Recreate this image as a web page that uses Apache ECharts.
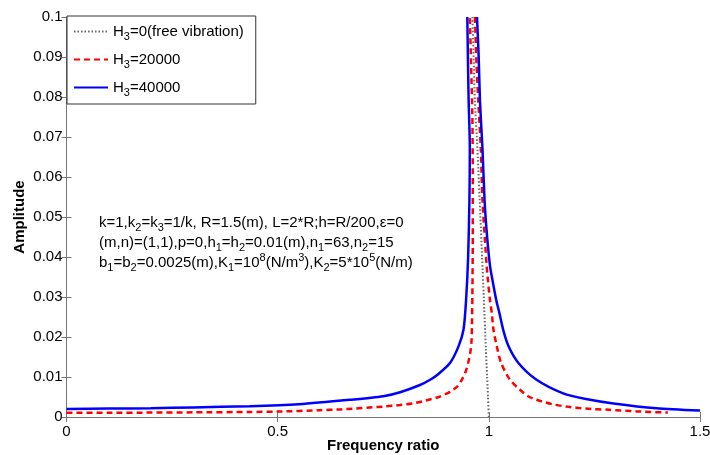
<!DOCTYPE html>
<html><head><meta charset="utf-8">
<script src="https://cdn.jsdelivr.net/npm/echarts@6/dist/echarts.min.js"></script>
<style>html,body{margin:0;padding:0;background:#fff}#c{width:710px;height:455px}</style>
</head><body><div id="c"></div>
<script>
// ---- data ----
const seriesNames = ['H3=0(free vibration)', 'H3=20000', 'H3=40000'];
const xTicks = [0, 0.5, 1, 1.5];
const yTicks = [0, 0.01, 0.02, 0.03, 0.04, 0.05, 0.06, 0.07, 0.08, 0.09, 0.1];

const freeX = [1.000, 0.998, 0.996, 0.993, 0.988, 0.984, 0.980, 0.973, 0.967, 0.964, 0.961];
const freeA = [0, 0.005, 0.010, 0.017, 0.030, 0.040, 0.050, 0.067, 0.079, 0.090, 0.100];

const h20LeftX = [0, 0.1, 0.2, 0.3, 0.435, 0.5, 0.6, 0.65, 0.75, 0.79, 0.82, 0.85, 0.884, 0.908, 0.925, 0.936, 0.945, 0.951, 0.956, 0.959, 0.960, 0.961, 0.962, 0.962, 0.961, 0.958, 0.955];
const h20LeftA = [0.00105, 0.00107, 0.00110, 0.00116, 0.00126, 0.00135, 0.0017, 0.0019, 0.0026, 0.0030, 0.0034, 0.0041, 0.0051, 0.0063, 0.0076, 0.0093, 0.0113, 0.0135, 0.0160, 0.0190, 0.0230, 0.030, 0.045, 0.060, 0.075, 0.088, 0.100];
const h20RightX = [0.967, 0.971, 0.975, 0.981, 0.985, 0.995, 0.998, 1.003, 1.007, 1.011, 1.019, 1.029, 1.050, 1.074, 1.093, 1.113, 1.150, 1.184, 1.230, 1.285, 1.350, 1.424];
const h20RightA = [0.100, 0.088, 0.079, 0.067, 0.054, 0.0376, 0.034, 0.029, 0.026, 0.0218, 0.0176, 0.0135, 0.0093, 0.0068, 0.0052, 0.0043, 0.0032, 0.0026, 0.0021, 0.0018, 0.0014, 0.0011];

const h40LeftX = [0, 0.1, 0.2, 0.3, 0.434, 0.55, 0.671, 0.75, 0.79, 0.837, 0.861, 0.880, 0.908, 0.928, 0.940, 0.946, 0.951, 0.954, 0.955, 0.952, 0.949];
const h40LeftA = [0.0020, 0.0021, 0.0022, 0.0024, 0.0027, 0.0032, 0.0043, 0.0052, 0.0062, 0.0080, 0.0093, 0.0107, 0.0135, 0.0176, 0.0218, 0.029, 0.040, 0.054, 0.067, 0.080, 0.100];
const h40RightX = [0.972, 0.976, 0.979, 0.985, 0.990, 0.996, 1.003, 1.009, 1.018, 1.025, 1.034, 1.047, 1.070, 1.113, 1.176, 1.230, 1.295, 1.397, 1.500];
const h40RightA = [0.100, 0.090, 0.079, 0.067, 0.054, 0.045, 0.0376, 0.034, 0.029, 0.026, 0.0218, 0.0176, 0.0135, 0.0093, 0.0059, 0.0045, 0.0034, 0.0022, 0.0016];

const noteLines = [
  '{n|k=1,k}{s|2}{n|=k}{s|3}{n|=1/k, R=1.5(m), L=2*R;h=R/200,ε=0}',
  '{n|(m,n)=(1,1),p=0,h}{s|1}{n|=h}{s|2}{n|=0.01(m),n}{s|1}{n|=63,n}{s|2}{n|=15}',
  '{n|b}{s|1}{n|=b}{s|2}{n|=0.0025(m),K}{s|1}{n|=10}{u|8}{n|(N/m}{u|3}{n|),K}{s|2}{n|=5*10}{u|5}{n|(N/m)}'
];

// ---- chart ----
const FONT = '"Liberation Sans", Arial, sans-serif';
const zip = (xs, ys) => xs.map((x, i) => [x, ys[i]]);
const rich = {
  n: { fontSize: 15, fontFamily: FONT, color: '#000', lineHeight: 20 },
  s: { fontSize: 11, fontFamily: FONT, color: '#000', lineHeight: 20, padding: [10, 0, 0, 0] },
  u: { fontSize: 11, fontFamily: FONT, color: '#000', lineHeight: 20, padding: [0, 0, 10, 0] }
};
const styles = [
  { color: '#666', width: 2, type: [1.5, 2] },
  { color: '#ff0000', width: 2.5, type: [6, 4] },
  { color: '#0000ff', width: 2.5, type: 'solid' }
];
function mk(name, idx, data) {
  return {
    name, type: 'line', data, symbol: 'none', smooth: 0.25, clip: true,
    lineStyle: styles[idx], itemStyle: { color: styles[idx].color }, z: 2 + idx
  };
}

const chart = echarts.init(document.getElementById('c'), null, { renderer: 'canvas' });
const axisCommon = {
  type: 'value',
  axisLine: { show: true, lineStyle: { color: '#777', width: 1 } },
  axisTick: { show: true, inside: true, length: 5, lineStyle: { color: '#777' } },
  splitLine: { show: false },
  nameMoveOverlap: false
};
chart.setOption({
  animation: false,
  backgroundColor: '#fff',
  grid: { left: 66.5, right: 10, top: 17, bottom: 38, containLabel: false, outerBoundsMode: 'none' },
  xAxis: [
    Object.assign({}, axisCommon, {
      min: xTicks[0], max: xTicks[xTicks.length - 1], interval: xTicks[1] - xTicks[0],
      position: 'bottom',
      axisLabel: { color: '#000', fontSize: 15, fontFamily: FONT, margin: 7, formatter: v => String(v) },
      name: 'Frequency ratio', nameLocation: 'middle', nameGap: 21,
      nameTextStyle: { color: '#000', fontSize: 15, fontWeight: 'bold', fontFamily: FONT }
    }),
    Object.assign({}, axisCommon, {
      min: xTicks[0], max: xTicks[xTicks.length - 1], interval: xTicks[1] - xTicks[0],
      position: 'top', axisLabel: { show: false }
    })
  ],
  yAxis: [
    Object.assign({}, axisCommon, {
      min: yTicks[0], max: yTicks[yTicks.length - 1], interval: yTicks[1] - yTicks[0],
      position: 'left',
      axisLabel: { color: '#000', fontSize: 15, fontFamily: FONT, margin: 4, formatter: v => String(Math.round(v * 100) / 100) },
      name: 'Amplitude', nameLocation: 'middle', nameGap: 39, nameRotate: 90,
      nameTextStyle: { color: '#000', fontSize: 15, fontWeight: 'bold', fontFamily: FONT }
    }),
    Object.assign({}, axisCommon, {
      min: yTicks[0], max: yTicks[yTicks.length - 1], interval: yTicks[1] - yTicks[0],
      position: 'right', axisLabel: { show: false }
    })
  ],
  legend: {
    data: seriesNames, orient: 'vertical', left: 67, top: 16,
    padding: [5, 12, 6, 6], itemGap: 7, itemWidth: 34, itemHeight: 14,
    backgroundColor: '#fff', borderColor: '#333', borderWidth: 1, borderRadius: 0,
    itemStyle: { opacity: 0 },
    formatter: name => '{n|H}{s|3}{n|' + name.slice(2) + '}',
    textStyle: { rich }
  },
  series: [
    mk(seriesNames[0], 0, zip(freeX, freeA)),
    mk(seriesNames[1], 1, zip(h20LeftX, h20LeftA)),
    mk(seriesNames[1], 1, zip(h20RightX, h20RightA)),
    mk(seriesNames[2], 2, zip(h40LeftX, h40LeftA)),
    mk(seriesNames[2], 2, zip(h40RightX, h40RightA))
  ],
  graphic: noteLines.map((t, i) => ({
    type: 'text', left: 99, top: 212 + i * 20.3, z: 10,
    style: { text: t, rich, fill: '#000' }
  }))
});
</script></body></html>
